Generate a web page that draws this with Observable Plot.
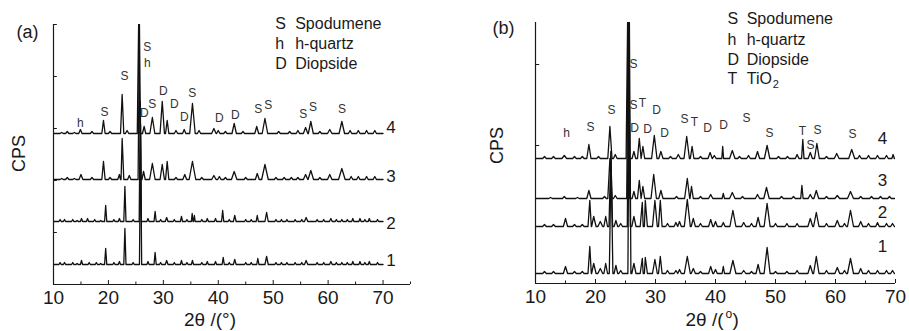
<!DOCTYPE html>
<html><head><meta charset="utf-8">
<script src="https://cdn.jsdelivr.net/npm/d3@7"></script>
<script src="https://cdn.jsdelivr.net/npm/@observablehq/plot@0.6"></script>
<style>
body{margin:0;background:#fff;}
#wrap{position:relative;width:909px;height:331px;background:#fff;}
#a{position:absolute;left:0;top:0;}
#b{position:absolute;left:454px;top:0;}
</style></head><body><div id="wrap"><div id="a"></div><div id="b"></div></div>
<script>
// ---------- shared tick labels ----------
const xMajor = [10, 20, 30, 40, 50, 60, 70];
const xMinorA = [15, 25, 35, 45, 55, 65, 75];
const xMinorB = [15, 25, 35, 45, 55, 65];

// ---------- panel (a) ----------
const aSamples = ["1", "2", "3", "4"];
const aOffsets = [20, 63, 105, 151];
const aYTicks = [52, 104, 156, 208, 260];
// peaks: [2theta, height, half-width]
const aPeaks1 = [[11.2,2,0.2],[12.0,2,0.2],[13.5,2,0.2],[14.3,1,0.2],[15.1,4,0.2],[16.5,2,0.2],[17.8,2,0.2],[18.6,1,0.2],[19.5,16,0.2],[21.0,2,0.2],[22.0,3,0.2],[23.0,36,0.2],[24.5,2,0.2],[25.85,140,0.2],[27.2,3,0.2],[28.5,12,0.2],[29.5,2,0.2],[30.6,4,0.25],[32.0,2,0.2],[33.3,4,0.2],[34.3,2,0.2],[35.3,4,0.2],[37.0,2,0.2],[38.0,3,0.2],[39.5,3,0.2],[40.9,7,0.2],[42.0,2,0.2],[43.0,5,0.25],[45.0,2,0.2],[46.0,2,0.2],[47.2,6,0.2],[48.8,8,0.3],[50.5,2,0.2],[51.5,2,0.2],[52.5,2,0.2],[54.0,2,0.2],[55.2,2,0.2],[56.0,4,0.3],[58.0,2,0.2],[59.2,2,0.2],[60.5,3,0.25],[61.5,2,0.2],[62.5,2,0.2],[63.5,2,0.2],[64.5,3,0.2],[65.8,3,0.2],[66.7,2,0.2],[67.5,3,0.2],[69.0,2,0.2]];
const aPeaks2 = [[11.2,2,0.2],[12.0,2,0.2],[13.5,2,0.2],[14.3,1,0.2],[15.1,3,0.2],[16.2,3,0.2],[17.5,2,0.2],[18.6,1,0.2],[19.5,16,0.2],[21.0,2,0.2],[22.0,3,0.2],[23.0,35,0.2],[24.5,2,0.2],[25.8,120,0.2],[27.2,3,0.2],[28.5,10,0.2],[29.5,2,0.2],[30.6,4,0.25],[32.0,2,0.2],[33.3,5,0.2],[34.3,2,0.2],[35.25,8,0.15],[35.65,6,0.15],[37.0,2,0.2],[38.0,3,0.2],[39.5,3,0.2],[40.8,11,0.2],[42.0,2,0.2],[43.0,6,0.25],[45.0,2,0.2],[46.0,2,0.2],[47.1,6,0.2],[48.8,9,0.3],[50.5,2,0.2],[51.5,2,0.2],[52.5,2,0.2],[54.0,2,0.2],[55.2,2,0.2],[56.0,4,0.3],[58.0,2,0.2],[59.2,2,0.2],[60.5,3,0.25],[61.5,2,0.2],[62.5,2,0.2],[63.5,2,0.2],[64.5,3,0.2],[65.8,3,0.2],[66.7,2,0.2],[67.5,3,0.2],[69.0,2,0.2]];
const aPeaks3 = [[11.5,1,0.3],[12.5,2,0.3],[13.8,1,0.3],[15.0,5,0.35],[17.0,2,0.3],[19.1,18,0.3],[20.3,2,0.3],[22.0,5,0.3],[22.5,41,0.3],[23.8,4,0.3],[25.65,155,0.25],[26.4,8,0.3],[28.0,16,0.5],[29.8,15,0.4],[30.7,18,0.3],[32.3,2,0.3],[33.9,5,0.35],[35.3,18,0.6],[37.0,2,0.3],[39.2,4,0.4],[40.2,3,0.3],[41.3,2,0.3],[42.9,8,0.5],[45.0,2,0.3],[47.1,6,0.35],[48.5,15,0.6],[50.5,2,0.3],[52.0,2,0.3],[53.3,2,0.3],[54.5,2,0.3],[55.9,5,0.4],[56.85,9,0.5],[58.5,2,0.3],[60.3,5,0.4],[62.5,11,0.6],[64.2,3,0.3],[65.5,3,0.3],[67.0,3,0.3],[68.5,3,0.3]];
const aPeaks4 = [[11.5,1,0.3],[12.5,2,0.3],[13.8,1,0.3],[14.9,4,0.3],[17.0,2,0.3],[19.1,13,0.3],[20.3,2,0.3],[22.5,39,0.3],[23.4,3,0.3],[25.5,109,0.25],[26.5,7,0.3],[28.0,16,0.45],[29.8,32,0.4],[30.7,13,0.3],[32.3,3,0.3],[33.8,4,0.3],[35.3,30,0.5],[36.5,3,0.3],[39.2,5,0.4],[40.0,3,0.3],[41.3,2,0.3],[42.9,10,0.4],[44.5,2,0.3],[47.0,7,0.35],[48.5,15,0.5],[51.0,2,0.3],[53.0,2,0.3],[54.5,3,0.3],[55.9,6,0.4],[56.85,12,0.45],[58.5,2,0.3],[60.3,4,0.4],[62.5,12,0.5],[64.0,3,0.3],[65.5,3,0.3],[67.0,3,0.3],[68.5,3,0.3]];
const aPeakLetters = ["S","h","S","S","h","D","S","D","D","D","S","D","D","S","S","S","S","S"];
const aPeakLetterX = [27.09,27.09,22.91,19.27,14.91,26.55,28.0,30.0,32.0,33.82,35.27,40.18,43.09,47.27,49.09,55.45,57.27,62.55];
const aPeakLetterY = [237,221,208,172,161,171,180,193,180,167,191,166,169,175,179,170,177,175];
const aTraceLabelY = [24, 61, 108, 157];
const aLegendSym = ["S", "h", "D"];
const aLegendName = ["Spodumene", "h-quartz", "Diopside"];
const aLegendY = [261, 241, 221];

// ---------- panel (b) ----------
const bSamples = ["1", "2", "3", "4"];
const bOffsets = [10, 57, 85, 125];
const bYTicks = [57, 138, 219];
const bPeaks1 = [[11.5,2,0.3],[13.0,2,0.3],[15.0,7,0.35],[16.5,2,0.3],[17.8,2,0.3],[19.05,27,0.3],[19.7,10,0.4],[20.8,5,0.4],[21.7,10,0.3],[22.6,115,0.3],[23.4,8,0.3],[24.2,3,0.3],[25.65,251,0.25],[26.4,10,0.35],[27.8,15,0.35],[28.3,16,0.35],[29.9,14,0.4],[30.8,17,0.3],[32.0,3,0.3],[33.4,3,0.3],[34.0,4,0.3],[35.3,17,0.5],[36.3,5,0.35],[37.5,2,0.3],[39.2,7,0.35],[40.0,4,0.3],[41.3,7,0.2],[42.9,13,0.5],[44.7,3,0.35],[46.0,2,0.3],[47.1,9,0.35],[48.6,26,0.5],[50.0,2,0.3],[51.9,2,0.3],[53.6,3,0.3],[55.8,8,0.4],[56.8,17,0.45],[58.5,3,0.3],[60.3,6,0.4],[61.5,3,0.3],[62.5,15,0.5],[64.2,5,0.35],[65.5,3,0.3],[67.0,3,0.3],[68.5,3,0.3],[69.5,3,0.3]];
const bPeaks2 = [[11.5,2,0.3],[13.0,2,0.3],[15.0,8,0.35],[16.5,2,0.3],[17.8,2,0.3],[19.05,26,0.3],[19.7,10,0.4],[20.8,5,0.4],[21.7,10,0.3],[22.55,75,0.3],[23.4,6,0.3],[24.2,3,0.3],[25.55,204,0.25],[26.4,10,0.35],[27.8,24,0.35],[28.3,26,0.35],[29.9,26,0.4],[30.8,26,0.3],[32.0,3,0.3],[33.4,4,0.3],[34.0,5,0.3],[35.3,27,0.5],[36.3,8,0.35],[37.5,3,0.3],[39.2,7,0.35],[40.0,5,0.3],[41.3,4,0.3],[42.9,16,0.5],[44.7,4,0.35],[46.0,3,0.3],[47.1,9,0.35],[48.6,23,0.5],[50.0,3,0.3],[51.9,3,0.3],[53.6,3,0.3],[55.8,8,0.4],[56.8,14,0.45],[58.5,3,0.3],[60.3,6,0.4],[61.5,3,0.3],[62.5,16,0.5],[64.2,5,0.35],[65.5,3,0.3],[67.0,4,0.3],[68.5,3,0.3],[69.5,3,0.3]];
const bPeaks3 = [[12.5,1,0.3],[14.8,2,0.3],[17.0,1,0.3],[18.9,8,0.35],[21.5,2,0.3],[22.4,40,0.35],[23.3,3,0.3],[25.45,176,0.25],[26.4,7,0.3],[27.3,18,0.3],[27.9,12,0.3],[29.7,24,0.45],[30.9,8,0.35],[33.5,2,0.3],[35.3,20,0.45],[36.0,12,0.3],[37.5,2,0.3],[39.2,4,0.35],[41.3,5,0.2],[42.8,6,0.45],[44.5,2,0.3],[47.0,4,0.35],[48.5,11,0.45],[51.0,2,0.3],[53.0,2,0.3],[54.4,13,0.2],[55.8,4,0.35],[56.8,8,0.4],[58.5,2,0.3],[60.3,3,0.4],[62.5,7,0.5],[64.2,2,0.3],[66.0,2,0.3],[67.5,2,0.3],[69.0,2,0.3]];
const bPeaks4 = [[11.5,2,0.3],[13.0,2,0.3],[14.8,3,0.4],[16.5,2,0.3],[17.8,2,0.3],[18.9,14,0.35],[20.5,2,0.3],[22.4,32,0.35],[23.3,4,0.3],[25.35,136,0.25],[26.4,7,0.3],[27.3,20,0.3],[27.9,12,0.3],[29.8,23,0.45],[30.9,7,0.35],[32.5,2,0.3],[33.8,4,0.35],[35.2,22,0.45],[36.1,12,0.3],[37.5,2,0.3],[39.1,6,0.35],[39.8,3,0.3],[41.2,12,0.15],[42.8,8,0.45],[44.0,2,0.3],[45.5,3,0.3],[47.0,7,0.35],[48.6,13,0.45],[50.5,2,0.3],[52.0,2,0.3],[53.6,4,0.3],[54.55,19,0.2],[55.8,6,0.35],[56.9,15,0.4],[58.5,2,0.3],[60.2,5,0.4],[62.7,9,0.5],[64.0,3,0.3],[65.5,3,0.3],[67.0,3,0.3],[68.5,3,0.3],[69.6,4,0.2]];
const bPeakLetters = ["S","S","T","D","S","S","h","D","D","D","S","T","D","D","S","S","T","S","S","S"];
const bPeakLetterX = [26.33,26.33,27.83,30.17,22.67,19.17,15.17,26.5,28.67,31.5,34.83,36.5,38.67,41.33,45.17,49.0,54.5,57.0,55.83,62.83];
const bPeakLetterY = [219,178,180,173,173,156,150,155,154,150,164,161,155,158,165,150,152,153,138,149];
const bTraceLabelY = [37, 71, 103, 145];
const bLegendSym = ["S", "h", "D", "T"];
const bLegendName = ["Spodumene", "h-quartz", "Diopside", "TiO"];
const bLegendY = [265, 244, 224, 205];

// ---------- build profiles ----------
function profile(peaks, offset, sample, x0, x1) {
  const pts = [[x0, 0]];
  for (const [c, h, w] of peaks) pts.push([c - w, 0], [c, h], [c + w, 0]);
  pts.push([x1, 0]);
  pts.sort((p, q) => p[0] - q[0]);
  return pts.map(([x, h]) => ({x, y: offset + h, sample}));
}
const aData = [aPeaks1, aPeaks2, aPeaks3, aPeaks4].flatMap((p, i) => profile(p, aOffsets[i], aSamples[i], 10, 70));
const bData = [bPeaks1, bPeaks2, bPeaks3, bPeaks4].flatMap((p, i) => profile(p, bOffsets[i], bSamples[i], 10, 70));

const font = "'Liberation Sans', Arial, Helvetica, sans-serif";
const ink = "#1a1a1a";

function panel(opts) {
  const {width, marginLeft, marginRight, marginTop, bottom, xmax, ymax, data, yTicks, minor,
         letters, lx, ly, samples, traceY, traceX, legSym, legName, legY, legSymX, legNameX, tag, tagDx, tagDy, cpsX, cpsY, extra} = opts;
  const marks = [
    Plot.line(data, {x: "x", y: "y", z: "sample", stroke: "#111", strokeWidth: 1.3, strokeLinejoin: "round", clip: true}),
    Plot.ruleY([0], {x1: 10, x2: xmax, stroke: ink, strokeWidth: 1.2}),
    Plot.ruleX([10], {y1: 0, y2: ymax, stroke: ink, strokeWidth: 1.2}),
    Plot.ruleX(xMajor, {x: d => d, y1: 0, y2: 4, stroke: ink}),
    Plot.ruleX(minor, {x: d => d, y1: 0, y2: 2.5, stroke: ink}),
    Plot.ruleY(yTicks, {y: d => d, x1: 10, x2: 10.7, stroke: ink}),
    Plot.text(xMajor, {x: d => d, y: -13, text: d => String(d), fontSize: 19, fill: ink, lineAnchor: "middle"}),
    Plot.text(letters, {x: (d, i) => lx[i], y: (d, i) => ly[i], text: d => d, fontSize: 12, fill: "#333", lineAnchor: "middle"}),
    Plot.text(samples, {x: traceX, y: (d, i) => traceY[i], text: d => d, fontSize: 17, fill: ink, lineAnchor: "middle"}),
    Plot.text(legSym, {x: legSymX, y: (d, i) => legY[i], text: d => d, fontSize: 16, fill: ink, textAnchor: "start", lineAnchor: "middle"}),
    Plot.text(legName, {x: legNameX, y: (d, i) => legY[i], text: d => d, fontSize: 16, fill: ink, textAnchor: "start", lineAnchor: "middle"}),
    Plot.text([tag], {frameAnchor: "top-left", dx: tagDx, dy: tagDy, text: d => d, fontSize: 18, fill: ink, textAnchor: "middle", lineAnchor: "middle"}),
    Plot.text(["CPS"], {x: cpsX, y: cpsY, rotate: -90, text: d => d, fontSize: 18, fill: ink, textAnchor: "middle", lineAnchor: "middle"}),
    ...extra
  ];
  return Plot.plot({
    width, height: 331, marginLeft, marginRight, marginTop, marginBottom: 331 - bottom,
    x: {domain: [10, xmax], axis: null},
    y: {domain: [0, ymax], axis: null},
    style: {fontFamily: font, background: "white", overflow: "visible"},
    marks
  });
}

const plotA = panel({
  width: 454, marginLeft: 53, marginRight: 44, marginTop: 24, bottom: 284, xmax: 75, ymax: 260,
  data: aData, yTicks: aYTicks, minor: xMinorA,
  letters: aPeakLetters, lx: aPeakLetterX, ly: aPeakLetterY,
  samples: aSamples, traceY: aTraceLabelY, traceX: 71.45,
  legSym: aLegendSym, legName: aLegendName, legY: aLegendY, legSymX: 50.36, legNameX: 54.0,
  tag: "(a)", tagDx: -26, tagDy: 8, cpsX: 3.8, cpsY: 131,
  extra: [
    Plot.text(["2θ /(°)"], {frameAnchor: "bottom", dx: -22, dy: 35, text: d => d, fontSize: 19, fill: ink, textAnchor: "middle", lineAnchor: "middle"})
  ]
});
const plotB = panel({
  width: 455, marginLeft: 81, marginRight: 14, marginTop: 22, bottom: 283, xmax: 70, ymax: 261,
  data: bData, yTicks: bYTicks, minor: xMinorB,
  letters: bPeakLetters, lx: bPeakLetterX, ly: bPeakLetterY,
  samples: bSamples, traceY: bTraceLabelY, traceX: 67.83,
  legSym: bLegendSym, legName: bLegendName, legY: bLegendY, legSymX: 42.0, legNameX: 45.2,
  tag: "(b)", tagDx: -32, tagDy: 6, cpsX: 3.67, cpsY: 138,
  extra: [
    Plot.text(["2"], {x: 49.55, y: 199, text: d => d, fontSize: 11, fill: ink, textAnchor: "start", lineAnchor: "middle"}),
    Plot.text(["2θ /("], {frameAnchor: "bottom", dx: -30, dy: 36, text: d => d, fontSize: 19, fill: ink, textAnchor: "start", lineAnchor: "middle"}),
    Plot.text(["o"], {frameAnchor: "bottom", dx: 10, dy: 31, text: d => d, fontSize: 12, fill: ink, textAnchor: "start", lineAnchor: "middle"}),
    Plot.text([")"], {frameAnchor: "bottom", dx: 17, dy: 36, text: d => d, fontSize: 19, fill: ink, textAnchor: "start", lineAnchor: "middle"})
  ]
});
document.getElementById("a").append(plotA);
document.getElementById("b").append(plotB);
</script>
</body></html>
